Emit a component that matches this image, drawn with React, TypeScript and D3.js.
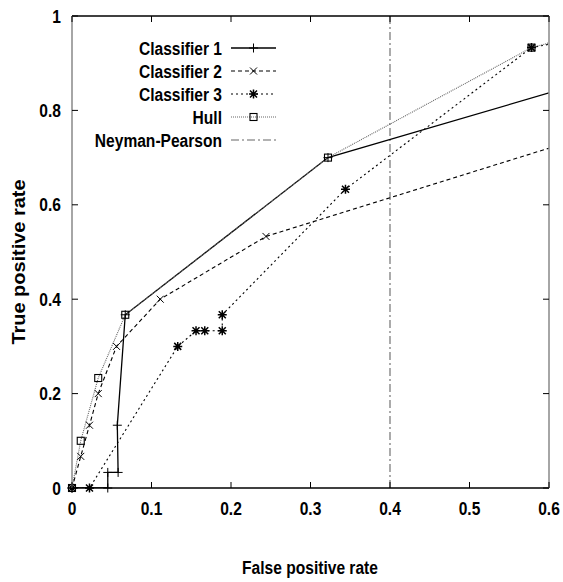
import React from "react";
import * as d3 from "d3";

const xTicks = [0, 0.1, 0.2, 0.3, 0.4, 0.5, 0.6];
const yTicks = [0, 0.2, 0.4, 0.6, 0.8, 1];
const xTickLabels = ["0", "0.1", "0.2", "0.3", "0.4", "0.5", "0.6"];
const yTickLabels = ["0", "0.2", "0.4", "0.6", "0.8", "1"];

const classifier1: [number, number][] = [
  [0, 0], [0.045, 0], [0.045, 0.033], [0.058, 0.033], [0.057, 0.133], [0.067, 0.367], [0.322, 0.7], [0.6, 0.837],
];
const classifier2: [number, number][] = [
  [0, 0], [0.011, 0.067], [0.022, 0.133], [0.033, 0.2], [0.056, 0.3], [0.111, 0.4], [0.244, 0.533], [0.6, 0.72],
];
const classifier3: [number, number][] = [
  [0, 0], [0.022, 0], [0.133, 0.3], [0.156, 0.333], [0.167, 0.333], [0.189, 0.333], [0.189, 0.367], [0.344, 0.633], [0.578, 0.933], [0.6, 0.94],
];
const hull: [number, number][] = [
  [0, 0], [0.011, 0.1], [0.033, 0.233], [0.067, 0.367], [0.322, 0.7], [0.578, 0.933], [0.6, 0.943],
];
const neymanPearsonX = 0.4;

const seriesNames = ["Classifier 1", "Classifier 2", "Classifier 3", "Hull", "Neyman-Pearson"];

const W = 563, H = 582;
const L = 72, R = 549, T = 16, B = 488;

const x = d3.scaleLinear().domain([0, 0.6]).range([L, R]);
const y = d3.scaleLinear().domain([0, 1]).range([B, T]);

type Style = { stroke: string; width: number; dash?: string; marker: string | null };
const styles: Style[] = [
  { stroke: "#000", width: 1.3, marker: "plus" },
  { stroke: "#000", width: 1.1, dash: "4,3", marker: "cross" },
  { stroke: "#000", width: 1.1, dash: "2,3", marker: "star" },
  { stroke: "#666", width: 1.1, dash: "1,1", marker: "square" },
  { stroke: "#666", width: 1.1, dash: "8,3,2,3", marker: null },
];

function Marker({ kind, cx, cy }: { kind: string; cx: number; cy: number }) {
  const s = 4.5;
  const st = { stroke: "#000", strokeWidth: 1, fill: "none" };
  if (kind === "plus")
    return <path d={`M${cx - s},${cy}H${cx + s}M${cx},${cy - s}V${cy + s}`} {...st} />;
  if (kind === "cross")
    return <path d={`M${cx - s + 1},${cy - s + 1}L${cx + s - 1},${cy + s - 1}M${cx - s + 1},${cy + s - 1}L${cx + s - 1},${cy - s + 1}`} {...st} />;
  if (kind === "star")
    return (
      <path
        d={`M${cx - s},${cy}H${cx + s}M${cx},${cy - s}V${cy + s}M${cx - 3.5},${cy - 3.5}L${cx + 3.5},${cy + 3.5}M${cx - 3.5},${cy + 3.5}L${cx + 3.5},${cy - 3.5}`}
        stroke="#000" strokeWidth={1.5} fill="none"
      />
    );
  if (kind === "square")
    return <rect x={cx - 3.5} y={cy - 3.5} width={7} height={7} stroke="#000" strokeWidth={1.1} fill="none" />;
  return null;
}

const textStyle = { fontFamily: "Liberation Sans, Arial, sans-serif", fontWeight: "bold" as const, fill: "#000" };

function T2({ x: tx, y: ty, anchor, size, children, rotate, sx = 0.82 }: any) {
  return (
    <g transform={`translate(${tx},${ty})${rotate ? ` rotate(${rotate})` : ""} scale(${sx},1)`}>
      <text textAnchor={anchor} fontSize={size} dominantBaseline="central" style={textStyle}>{children}</text>
    </g>
  );
}

export default function App() {
  const line = d3.line<[number, number]>().x((d) => x(d[0])).y((d) => y(d[1]));
  const series = [classifier1, classifier2, classifier3, hull];
  const legendRows = [48, 71, 94, 117, 140];

  return (
    <svg width={W} height={H} style={{ position: "absolute", left: 0, top: 0, background: "#fff" }}>
      <defs>
        <clipPath id="plot"><rect x={L} y={T} width={R - L} height={B - T} /></clipPath>
      </defs>
      <line x1={x(neymanPearsonX)} x2={x(neymanPearsonX)} y1={y(0)} y2={y(1)} stroke={styles[4].stroke} strokeWidth={1.1} strokeDasharray={styles[4].dash} />
      <g clipPath="url(#plot)">
        {series.map((s, i) => (
          <path key={i} d={line(s) || ""} fill="none" stroke={styles[i].stroke} strokeWidth={styles[i].width} strokeDasharray={styles[i].dash} />
        ))}
      </g>
      {series.map((s, i) =>
        s.filter((d) => d[0] < 0.6).map((d, j) => <Marker key={`${i}-${j}`} kind={styles[i].marker!} cx={x(d[0])} cy={y(d[1])} />)
      )}
      <line x1={L} x2={R} y1={T} y2={T} stroke="#000" strokeWidth={1.3} />
      <line x1={L} x2={R} y1={B} y2={B} stroke="#000" strokeWidth={1.3} />
      <line x1={L} x2={L} y1={T} y2={B} stroke="#888" strokeWidth={1.5} />
      <line x1={R} x2={R} y1={T} y2={B} stroke="#888" strokeWidth={1.5} />
      {xTicks.map((t, i) => (
        <g key={`xt${i}`}>
          <line x1={x(t)} x2={x(t)} y1={B} y2={B - 6} stroke="#000" strokeWidth={1} />
          <line x1={x(t)} x2={x(t)} y1={T} y2={T + 6} stroke="#000" strokeWidth={1} />
          <T2 x={x(t)} y={508} anchor="middle" size={19}>{xTickLabels[i]}</T2>
        </g>
      ))}
      {yTicks.map((t, i) => (
        <g key={`yt${i}`}>
          <line x1={L} x2={L + 6} y1={y(t)} y2={y(t)} stroke="#000" strokeWidth={1} />
          <line x1={R} x2={R - 6} y1={y(t)} y2={y(t)} stroke="#000" strokeWidth={1} />
          <T2 x={61} y={y(t)} anchor="end" size={19}>{yTickLabels[i]}</T2>
        </g>
      ))}
      <T2 x={310} y={567} anchor="middle" size={19}>False positive rate</T2>
      <T2 x={18} y={262} anchor="middle" size={19} sx={1.05} rotate={-90}>True positive rate</T2>
      {seriesNames.map((n, i) => (
        <g key={`lg${i}`}>
          <T2 x={222} y={legendRows[i]} anchor="end" size={19}>{n}</T2>
          <line x1={231} x2={276} y1={legendRows[i]} y2={legendRows[i]} stroke={styles[i].stroke} strokeWidth={styles[i].width} strokeDasharray={styles[i].dash} />
          {styles[i].marker && <Marker kind={styles[i].marker!} cx={253.5} cy={legendRows[i]} />}
        </g>
      ))}
    </svg>
  );
}
